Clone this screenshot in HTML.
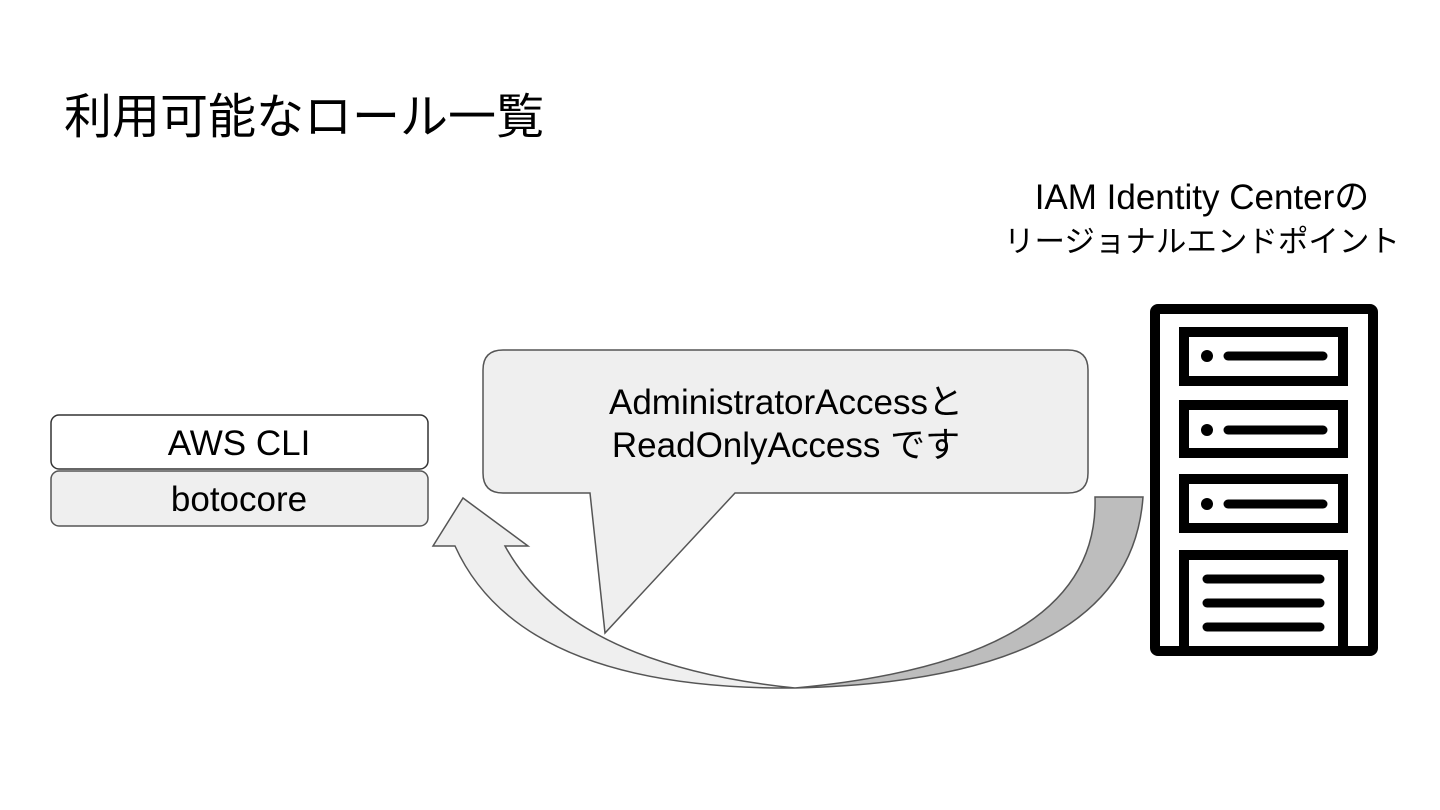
<!DOCTYPE html>
<html><head><meta charset="utf-8"><style>
body{margin:0;width:1440px;height:810px;background:#fff;overflow:hidden;font-family:"Liberation Sans","Noto Sans CJK JP",sans-serif;}
</style></head><body>
<svg width="1440" height="810" viewBox="0 0 1440 810" xmlns="http://www.w3.org/2000/svg" style="position:absolute;left:0;top:0">
<text x="64" y="133" font-size="48" fill="#000" font-family="Liberation Sans, Noto Sans CJK JP, sans-serif">利用可能なロール一覧</text>
<text x="1202" y="209" font-size="35" text-anchor="middle" fill="#000" font-family="Liberation Sans, Noto Sans CJK JP, sans-serif">IAM Identity Centerの</text>
<text x="1202" y="252" font-size="30.5" text-anchor="middle" fill="#000" font-family="Liberation Sans, Noto Sans CJK JP, sans-serif">リージョナルエンドポイント</text>
<rect x="51" y="415" width="377" height="54" rx="8" fill="#fff" stroke="#333" stroke-width="1.5"/>
<text x="239" y="455" font-size="35" text-anchor="middle" font-family="Liberation Sans, sans-serif">AWS CLI</text>
<rect x="51" y="471" width="377" height="55" rx="8" fill="#efefef" stroke="#555" stroke-width="1.5"/>
<text x="239" y="511" font-size="35" text-anchor="middle" font-family="Liberation Sans, sans-serif">botocore</text>
<path d="M1095,497 L1143,497 Q1130,680 795,688 Q1100,660 1095,497 Z" fill="#bdbdbd" stroke="#555" stroke-width="1.5"/>
<path d="M795,688 Q520,690 455,546 L433,546 L463,498 L528,546 L505,546 Q570,665 795,688 Z" fill="#efefef" stroke="#555" stroke-width="1.5"/>
<path d="M503,350 L1068,350 Q1088,350 1088,370 L1088,473 Q1088,493 1068,493 L735,493 L605,633 L590,493 L503,493 Q483,493 483,473 L483,370 Q483,350 503,350 Z" fill="#efefef" stroke="#555" stroke-width="1.5"/>
<text x="786" y="414" font-size="35" text-anchor="middle" font-family="Liberation Sans, Noto Sans CJK JP, sans-serif">AdministratorAccessと</text>
<text x="786" y="457" font-size="35" text-anchor="middle" font-family="Liberation Sans, Noto Sans CJK JP, sans-serif">ReadOnlyAccess です</text>
<rect x="1155" y="309" width="218" height="342" rx="3" fill="#fff" stroke="#000" stroke-width="10"/>
<rect x="1184" y="332" width="159" height="49" fill="none" stroke="#000" stroke-width="10"/>
<rect x="1184" y="405" width="159" height="48" fill="none" stroke="#000" stroke-width="10"/>
<rect x="1184" y="479" width="159" height="49" fill="none" stroke="#000" stroke-width="10"/>
<path d="M1184,651 L1184,555 L1343,555 L1343,651" fill="none" stroke="#000" stroke-width="10"/>
<g fill="#000"><circle cx="1207" cy="356" r="6"/><circle cx="1207" cy="430" r="6"/><circle cx="1207" cy="504" r="6"/></g>
<g stroke="#000" stroke-width="9" stroke-linecap="round">
<line x1="1228" y1="356" x2="1323" y2="356"/><line x1="1228" y1="430" x2="1323" y2="430"/><line x1="1228" y1="504" x2="1323" y2="504"/>
<line x1="1207" y1="579" x2="1320" y2="579"/><line x1="1207" y1="603" x2="1320" y2="603"/><line x1="1207" y1="627" x2="1320" y2="627"/>
</g>
</svg>
</body></html>
